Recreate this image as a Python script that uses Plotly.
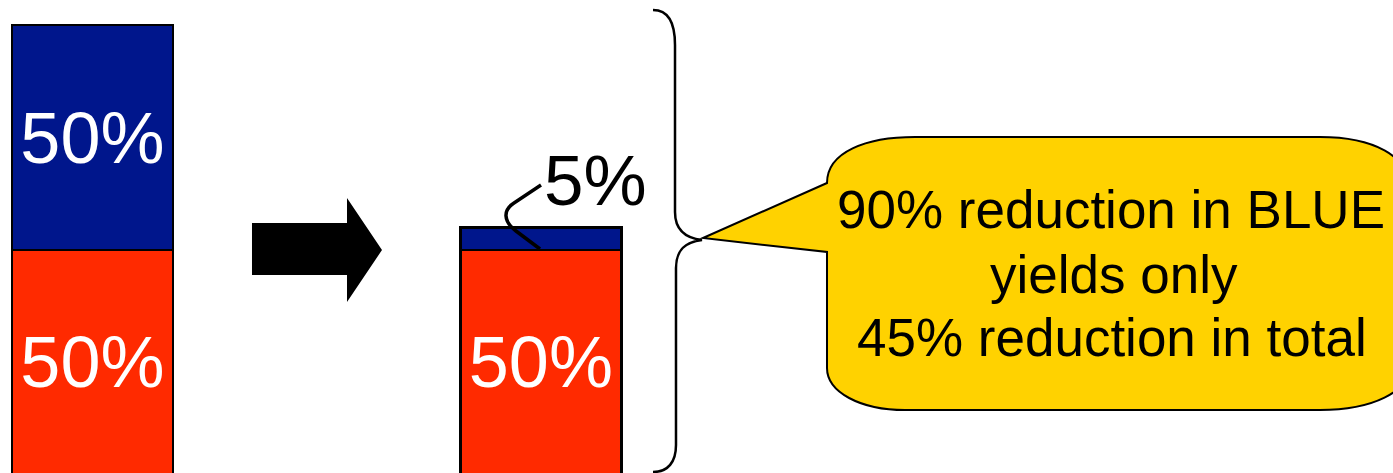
import plotly.graph_objects as go

W, H = 1393, 473

# ---- data ----
stages = [0, 1]                      # before / after
red_values = [50, 50]
blue_values = [50, 5]
red_labels = ["50%", "50%"]
blue_labels = ["50%", ""]
after_blue_label = "5%"
callout_lines = ["90% reduction in BLUE", "yields only", "45% reduction in total"]

BLUE = "#00168C"
RED = "#FF2A00"
GOLD = "#FFD200"
FONT = "Liberation Sans, Arial, sans-serif"


def px(x):
    return x / W


def py(y):
    return 1 - y / H


def path(cmds):
    out = []
    for c in cmds:
        if isinstance(c, str):
            out.append(c)
        else:
            out.append(f"{px(c[0]):.5f},{py(c[1]):.5f}")
    return " ".join(out)


fig = go.Figure()
fig.add_trace(go.Bar(
    x=stages, y=red_values, width=0.359, marker=dict(color=RED, line=dict(color="black", width=2.5)),
    text=red_labels, textposition="inside", insidetextanchor="middle",
    textfont=dict(family=FONT, size=72, color="white"), textangle=0, hoverinfo="skip"))
fig.add_trace(go.Bar(
    x=stages, y=blue_values, width=0.359, marker=dict(color=BLUE, line=dict(color="black", width=2.5)),
    text=blue_labels, textposition="inside", insidetextanchor="middle",
    textfont=dict(family=FONT, size=72, color="white"), textangle=0, hoverinfo="skip"))

shapes = []
# block arrow
shapes.append(dict(type="path", xref="paper", yref="paper", fillcolor="black", line=dict(width=0),
                   path=path(["M", (252, 223), "L", (347, 223), "L", (347, 198), "L", (382, 250),
                              "L", (347, 302), "L", (347, 275), "L", (252, 275), "Z"])))
# leader line for 5%
shapes.append(dict(type="path", xref="paper", yref="paper", line=dict(color="black", width=3.5),
                   path=path(["M", (540, 249), "L", (516, 231), "C", (503, 221), (503, 210), (514, 203),
                              "L", (541, 185)])))
# brace
shapes.append(dict(type="path", xref="paper", yref="paper", line=dict(color="black", width=2.5),
                   path=path(["M", (653, 10), "C", (668, 10), (675, 22), (675, 45),
                              "L", (675, 212), "C", (675, 230), (685, 238), (702, 240),
                              "C", (685, 242), (676, 250), (676, 268),
                              "L", (676, 445), "C", (676, 462), (668, 472), (653, 472)])))
# callout bubble
shapes.append(dict(type="path", xref="paper", yref="paper", fillcolor=GOLD, line=dict(color="black", width=2),
                   path=path(["M", (703, 238), "L", (827, 183), "C", (827, 152), (866, 137), (915, 137),
                              "L", (1320, 137), "C", (1372, 137), (1410, 155), (1410, 190),
                              "L", (1410, 365), "C", (1410, 392), (1372, 410), (1320, 410),
                              "L", (905, 410), "C", (860, 410), (827, 392), (827, 368),
                              "L", (827, 252), "Z"])))

annotations = [dict(text=after_blue_label, xref="paper", yref="paper", x=px(595), y=py(180),
                    xanchor="center", yanchor="middle", showarrow=False,
                    font=dict(family=FONT, size=71, color="black"))]
for line, yc, xc in zip(callout_lines, [210, 274, 337], [1111, 1114, 1112]):
    annotations.append(dict(text=line, xref="paper", yref="paper", x=px(xc), y=py(yc),
                            xanchor="center", yanchor="middle", showarrow=False,
                            font=dict(family=FONT, size=53, color="black")))

fig.update_layout(
    width=W, height=H, margin=dict(l=0, r=0, t=0, b=0),
    barmode="stack", showlegend=False,
    paper_bgcolor="white", plot_bgcolor="white",
    xaxis=dict(range=[-0.206, 2.9], visible=False, fixedrange=True),
    yaxis=dict(range=[0.44, 105.56], visible=False, fixedrange=True),
    shapes=shapes, annotations=annotations,
)

fig.write_html("out.html", config={"displayModeBar": False})
